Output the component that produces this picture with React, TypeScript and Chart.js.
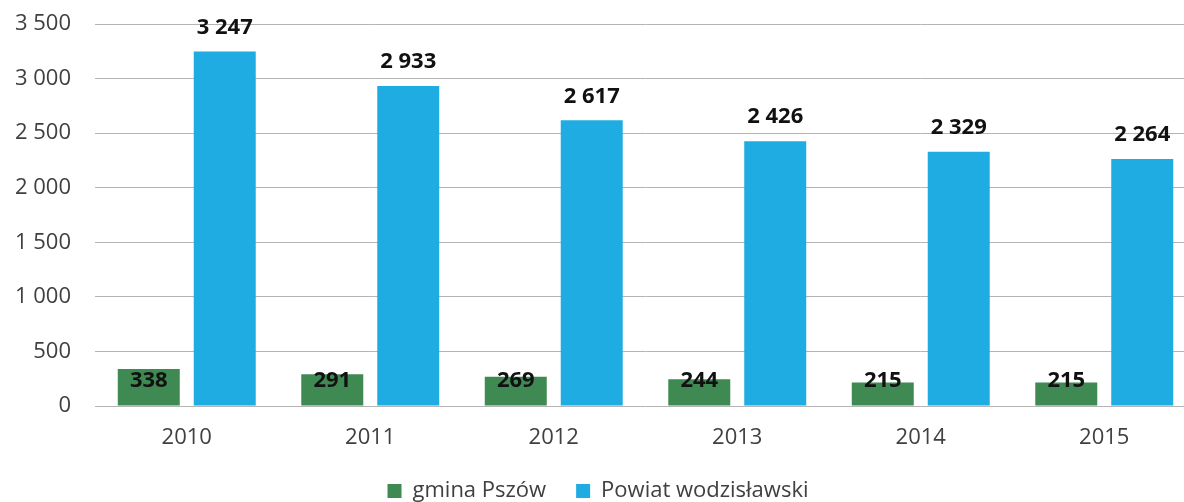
import React, { useEffect, useRef } from "react";
import { Chart, registerables } from "chart.js";

Chart.register(...registerables);

const years = ["2010", "2011", "2012", "2013", "2014", "2015"];
const gminaPszow = [338, 291, 269, 244, 215, 215];
const powiatWodzislawski = [3247, 2933, 2617, 2426, 2329, 2264];
const seriesNames = ["gmina Pszów", "Powiat wodzisławski"];
const yMax = 3500;
const yStep = 500;

const GREEN = "#3F8A53";
const BLUE = "#1FACE3";
const FONT = "'Open Sans', 'Noto Sans', sans-serif";

const fmt = (v: number) => String(v).replace(/\B(?=(\d{3})+(?!\d))/g, " ");

const labelPlugin = {
  id: "valueLabels",
  afterDatasetsDraw(chart: any) {
    const ctx = chart.ctx;
    const yScale = chart.scales.y;
    ctx.save();
    ctx.font = `bold 22px ${FONT}`;
    ctx.fillStyle = "#111111";
    ctx.textAlign = "center";
    ctx.textBaseline = "middle";
    chart.data.datasets.forEach((ds: any, di: number) => {
      const meta = chart.getDatasetMeta(di);
      meta.data.forEach((bar: any, i: number) => {
        const v = ds.data[i];
        let y: number;
        if (di === 0) {
          y = yScale.getPixelForValue(0) - 25;
        } else {
          y = bar.y - 24;
        }
        ctx.fillText(fmt(v), bar.x, y);
      });
    });
    ctx.restore();
  },
};

export default function App() {
  const ref = useRef<HTMLCanvasElement | null>(null);
  useEffect(() => {
    if (!ref.current) return;
    const chart = new Chart(ref.current, {
      type: "bar",
      data: {
        labels: years,
        datasets: [
          {
            label: seriesNames[0],
            data: gminaPszow,
            backgroundColor: GREEN,
            borderWidth: 0,
            categoryPercentage: 0.828,
            barPercentage: 0.816,
          },
          {
            label: seriesNames[1],
            data: powiatWodzislawski,
            backgroundColor: BLUE,
            borderWidth: 0,
            categoryPercentage: 0.828,
            barPercentage: 0.816,
          },
        ],
      },
      options: {
        responsive: false,
        animation: false,
        devicePixelRatio: 1,
        layout: { padding: { top: 24, right: 14, left: 0, bottom: 0 } },
        plugins: {
          legend: {
            position: "bottom",
            labels: {
              boxWidth: 14,
              boxHeight: 14,
              padding: 30,
              color: "#404040",
              font: { family: FONT, size: 22 },
            },
          },
          tooltip: { enabled: false },
        },
        scales: {
          x: {
            grid: { display: false, drawTicks: false },
            border: { display: false },
            ticks: {
              padding: 19,
              color: "#404040",
              font: { family: FONT, size: 22 },
            },
            afterFit: (s: any) => {
              s.height = 44;
            },
          },
          y: {
            min: 0,
            max: yMax,
            ticks: {
              stepSize: yStep,
              padding: 0,
              color: "#404040",
              font: { family: FONT, size: 22 },
              callback: (v: any) => fmt(Number(v)),
            },
            grid: {
              color: "#b4b4b4",
              lineWidth: 1,
              drawTicks: true,
              tickLength: 24,
              tickColor: "rgba(0,0,0,0)",
            },
            border: { display: false },
            afterFit: (s: any) => {
              s.width = 95;
            },
          },
        },
      },
      plugins: [labelPlugin],
    });
    return () => chart.destroy();
  }, []);
  return (
    <div
      style={{
        position: "absolute",
        left: 0,
        top: 0,
        width: 1184,
        height: 502,
        overflow: "hidden",
        background: "#ffffff",
      }}
    >
      <canvas ref={ref} width={1210} height={512} style={{ display: "block" }} />
    </div>
  );
}
